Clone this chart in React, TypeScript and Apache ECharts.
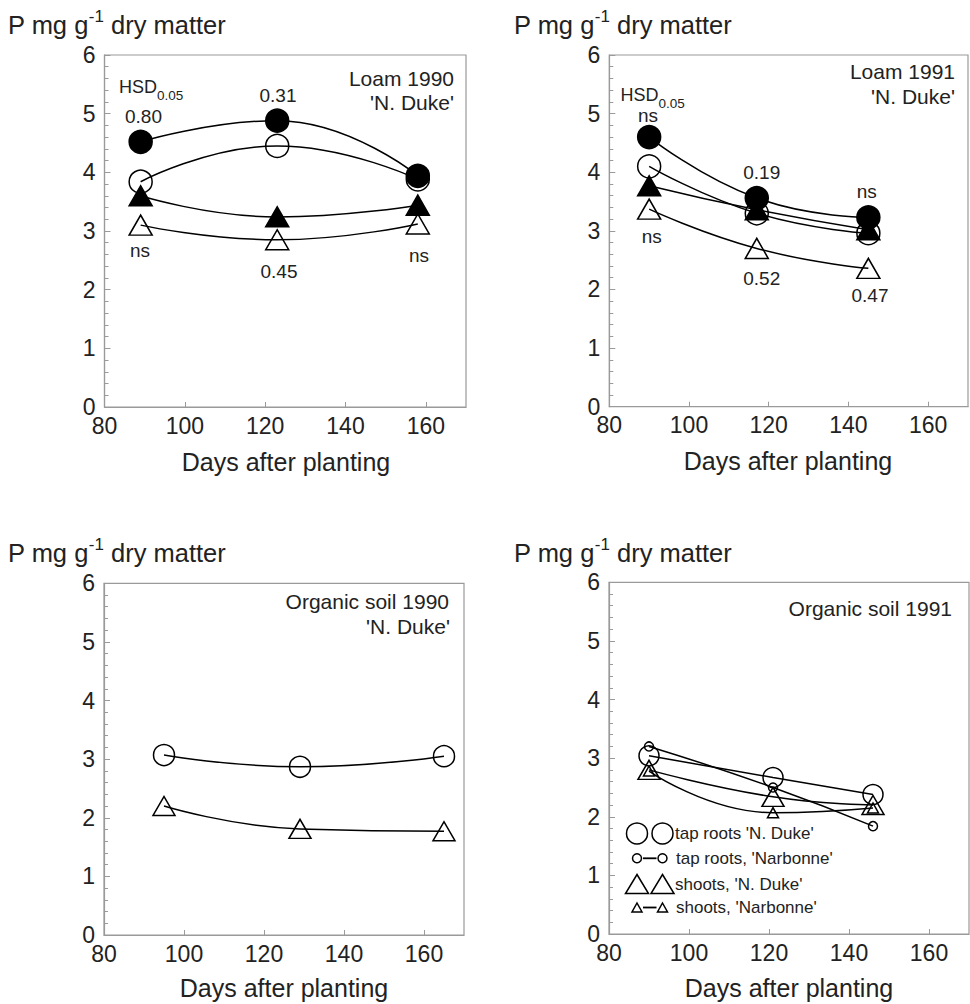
import React, { useEffect, useRef } from "react";
import * as echarts from "echarts";

// ---------- data ----------
// Panel A: Loam 1990 'N. Duke'
const loam90Days = [89, 123, 158];
const loam90FilledCircle = [4.52, 4.88, 3.94];
const loam90OpenCircle = [3.84, 4.45, 3.88];
const loam90FilledTriangle = [3.6, 3.24, 3.44];
const loam90OpenTriangle = [3.1, 2.85, 3.12];

// Panel B: Loam 1991 'N. Duke'
const loam91Days = [90, 117, 145];
const loam91FilledCircle = [4.6, 3.56, 3.23];
const loam91OpenCircle = [4.1, 3.3, 2.96];
const loam91FilledTriangle = [3.77, 3.36, 3.02];
const loam91OpenTriangle = [3.37, 2.7, 2.36];

// Panel C: Organic soil 1990 'N. Duke'
const org90Days = [95, 129, 165];
const org90TapRoots = [3.07, 2.87, 3.05];
const org90Shoots = [2.2, 1.81, 1.77];

// Panel D: Organic soil 1991
const org91Days = [90, 121, 146];
const org91TapDuke = [3.04, 2.67, 2.38];
const org91TapNarbonne = [3.2, 2.5, 1.84];
const org91ShootDuke = [2.8, 2.34, 2.2];
const org91ShootNarbonne = [2.78, 2.07, 2.15];

const xMin = 80;
const xMax = 170;
const xStep = 20;
const yMin = 0;
const yMax = 6;
const yStep = 1;

const yTitle = ["P mg g", "-1", " dry matter"];
const xTitle = "Days after planting";
const legendLabels = [
  "tap roots 'N. Duke'",
  "tap roots, 'Narbonne'",
  "shoots, 'N. Duke'",
  "shoots, 'Narbonne'",
];

// ---------- styles ----------
const FONT = '"Liberation Sans", Arial, Helvetica, sans-serif';
const INK = "#222";
const GRAY = "#9a9a9a";

const grids = [
  { left: 104.5, top: 55, width: 361.5, height: 352 },
  { left: 609.3, top: 55, width: 358.7, height: 351.7 },
  { left: 104, top: 583.3, width: 360, height: 351.7 },
  { left: 609, top: 582.3, width: 360, height: 351.7 },
];

function series(
  name: string,
  idx: number,
  days: number[],
  vals: number[],
  symbol: string,
  size: number | number[],
  filled: boolean
) {
  return {
    type: "line",
    name,
    xAxisIndex: idx,
    yAxisIndex: idx,
    data: days.map((d, i) => [d, vals[i]]),
    smooth: 0.5,
    symbol,
    symbolSize: size,
    showSymbol: true,
    silent: true,
    lineStyle: { color: "#000", width: 1.5 },
    itemStyle: {
      color: filled ? "#000" : "rgba(0,0,0,0)",
      borderColor: "#000",
      borderWidth: 1.5,
    },
    emphasis: { disabled: true },
  };
}

function txt(x: number, y: number, text: string, size: number, align = "center") {
  return {
    type: "text",
    x,
    y,
    silent: true,
    style: {
      text,
      fontSize: size,
      fontFamily: FONT,
      fill: INK,
      align,
      verticalAlign: "middle",
    },
  };
}

function yTitleEl(x: number, y: number) {
  return {
    type: "text",
    x,
    y,
    silent: true,
    style: {
      text: `{a|${yTitle[0]}}{s|${yTitle[1]}}{a|${yTitle[2]}}`,
      align: "left",
      verticalAlign: "top",
      rich: {
        a: { fontSize: 25.5, fontFamily: FONT, fill: INK, lineHeight: 30, verticalAlign: "bottom" },
        s: { fontSize: 17, fontFamily: FONT, fill: INK, lineHeight: 30, verticalAlign: "top" },
      },
    },
  };
}

function hsdEl(x: number, y: number) {
  return {
    type: "text",
    x,
    y,
    silent: true,
    style: {
      text: "{a|HSD}{b|0.05}",
      align: "left",
      verticalAlign: "top",
      rich: {
        a: { fontSize: 18, fontFamily: FONT, fill: INK, lineHeight: 18, verticalAlign: "top" },
        b: { fontSize: 13.5, fontFamily: FONT, fill: INK, lineHeight: 24, verticalAlign: "bottom" },
      },
    },
  };
}

const stroke = { fill: "none", stroke: "#000", lineWidth: 1.5 };
function circ(cx: number, cy: number, r: number) {
  return { type: "circle", silent: true, shape: { cx, cy, r }, style: { ...stroke } };
}
function tri(cx: number, cy: number, w: number, h: number) {
  return {
    type: "polygon",
    silent: true,
    shape: {
      points: [
        [cx, cy - h / 2],
        [cx + w / 2, cy + h / 2],
        [cx - w / 2, cy + h / 2],
      ],
    },
    style: { ...stroke },
  };
}
function dash(x1: number, x2: number, y: number) {
  return { type: "line", silent: true, shape: { x1, y1: y, x2, y2: y }, style: { stroke: "#000", lineWidth: 1.8 } };
}

function buildOption() {
  const xAxis = grids.map((_, i) => ({
    type: "value",
    gridIndex: i,
    min: xMin,
    max: xMax,
    interval: xStep,
    axisLine: { show: true, lineStyle: { color: GRAY, width: 1.2 } },
    axisTick: { show: true, inside: true, length: 5, lineStyle: { color: GRAY, width: 1 } },
    axisLabel: {
      color: INK,
      fontSize: 23,
      fontFamily: FONT,
      margin: 7,
      showMaxLabel: false,
    },
    splitLine: { show: false },
  }));
  const yAxis = grids.map((_, i) => ({
    type: "value",
    gridIndex: i,
    min: yMin,
    max: yMax,
    interval: yStep,
    axisLine: { show: true, lineStyle: { color: GRAY, width: 1.2 } },
    axisTick: { show: true, inside: true, length: 6, lineStyle: { color: GRAY, width: 1 } },
    minorTick: { show: true, splitNumber: 5, length: 4, lineStyle: { color: GRAY, width: 1 } },
    axisLabel: { color: INK, fontSize: 23, fontFamily: FONT, margin: 9 },
    splitLine: { show: false },
    minorSplitLine: { show: false },
  }));

  const bigTri = [23, 20];
  const s = [
    series("Loam 1990 filled circles", 0, loam90Days, loam90FilledCircle, "circle", 23, true),
    series("Loam 1990 open circles", 0, loam90Days, loam90OpenCircle, "circle", 23, false),
    series("Loam 1990 filled triangles", 0, loam90Days, loam90FilledTriangle, "triangle", bigTri, true),
    series("Loam 1990 open triangles", 0, loam90Days, loam90OpenTriangle, "triangle", bigTri, false),
    series("Loam 1991 filled circles", 1, loam91Days, loam91FilledCircle, "circle", 23, true),
    series("Loam 1991 open circles", 1, loam91Days, loam91OpenCircle, "circle", 23, false),
    series("Loam 1991 filled triangles", 1, loam91Days, loam91FilledTriangle, "triangle", bigTri, true),
    series("Loam 1991 open triangles", 1, loam91Days, loam91OpenTriangle, "triangle", bigTri, false),
    series("Organic 1990 tap roots", 2, org90Days, org90TapRoots, "circle", 21, false),
    series("Organic 1990 shoots", 2, org90Days, org90Shoots, "triangle", [22, 19], false),
    series(legendLabels[0], 3, org91Days, org91TapDuke, "circle", 20, false),
    series(legendLabels[1], 3, org91Days, org91TapNarbonne, "circle", 9, false),
    series(legendLabels[2], 3, org91Days, org91ShootDuke, "triangle", [22, 19], false),
    series(legendLabels[3], 3, org91Days, org91ShootNarbonne, "triangle", [11, 10], false),
  ];

  const lx1 = 637;
  const lx2 = 662.5;
  const ltx = 675;
  const rows = [833.5, 858.3, 884, 907.5];

  const graphic = [
    // axis titles
    yTitleEl(8, 8),
    yTitleEl(514, 8),
    yTitleEl(8, 536),
    yTitleEl(514, 536),
    txt(286, 462, xTitle, 25),
    txt(788, 461, xTitle, 25),
    txt(284, 988, xTitle, 25),
    txt(789, 988, xTitle, 25),
    // panel A
    txt(454, 78, "Loam 1990", 21, "right"),
    txt(454, 102.5, "'N. Duke'", 21, "right"),
    hsdEl(119, 78),
    txt(143.5, 116.5, "0.80", 19),
    txt(278, 95, "0.31", 19),
    txt(140, 250.5, "ns", 19),
    txt(279, 271.5, "0.45", 19),
    txt(419, 255, "ns", 19),
    // panel B
    txt(955, 71.7, "Loam 1991", 21, "right"),
    txt(955, 96.7, "'N. Duke'", 21, "right"),
    hsdEl(620.5, 86),
    txt(648, 115, "ns", 19),
    txt(761.7, 172.7, "0.19", 19),
    txt(866.7, 191.7, "ns", 19),
    txt(651.7, 236.7, "ns", 19),
    txt(761.7, 278.3, "0.52", 19),
    txt(870, 295, "0.47", 19),
    // panel C
    txt(449, 601.7, "Organic soil 1990", 21, "right"),
    txt(450, 626.7, "'N. Duke'", 21, "right"),
    // panel D
    txt(952, 608.3, "Organic soil 1991", 21, "right"),
    // legend panel D
    circ(lx1, rows[0], 10.5),
    circ(lx2, rows[0], 10.5),
    txt(ltx, rows[0], legendLabels[0], 17, "left"),
    circ(lx1, rows[1], 4.5),
    dash(lx1 + 6, lx2 - 6, rows[1]),
    circ(lx2, rows[1], 4.5),
    txt(ltx + 1, rows[1], legendLabels[1], 17, "left"),
    tri(lx1, rows[2], 23, 19),
    tri(lx2, rows[2], 23, 19),
    txt(ltx, rows[2], legendLabels[2], 17, "left"),
    tri(lx1, rows[3], 10, 9),
    dash(lx1 + 6, lx2 - 6, rows[3]),
    tri(lx2, rows[3], 10, 9),
    txt(ltx + 1, rows[3], legendLabels[3], 17, "left"),
  ];

  return {
    animation: false,
    backgroundColor: "#fff",
    textStyle: { fontFamily: FONT },
    grid: grids.map((g) => ({
      ...g,
      show: true,
      borderColor: GRAY,
      borderWidth: 1.2,
      backgroundColor: "rgba(0,0,0,0)",
      containLabel: false,
    })),
    xAxis,
    yAxis,
    series: s,
    graphic,
  };
}

export default function App() {
  const ref = useRef<HTMLDivElement>(null);
  useEffect(() => {
    if (!ref.current) return;
    const chart = echarts.init(ref.current, undefined, { renderer: "svg" });
    chart.setOption(buildOption() as any);
    return () => chart.dispose();
  }, []);
  return (
    <div
      ref={ref}
      style={{ position: "fixed", left: 0, top: 0, width: 970, height: 1004, background: "#fff" }}
    />
  );
}
